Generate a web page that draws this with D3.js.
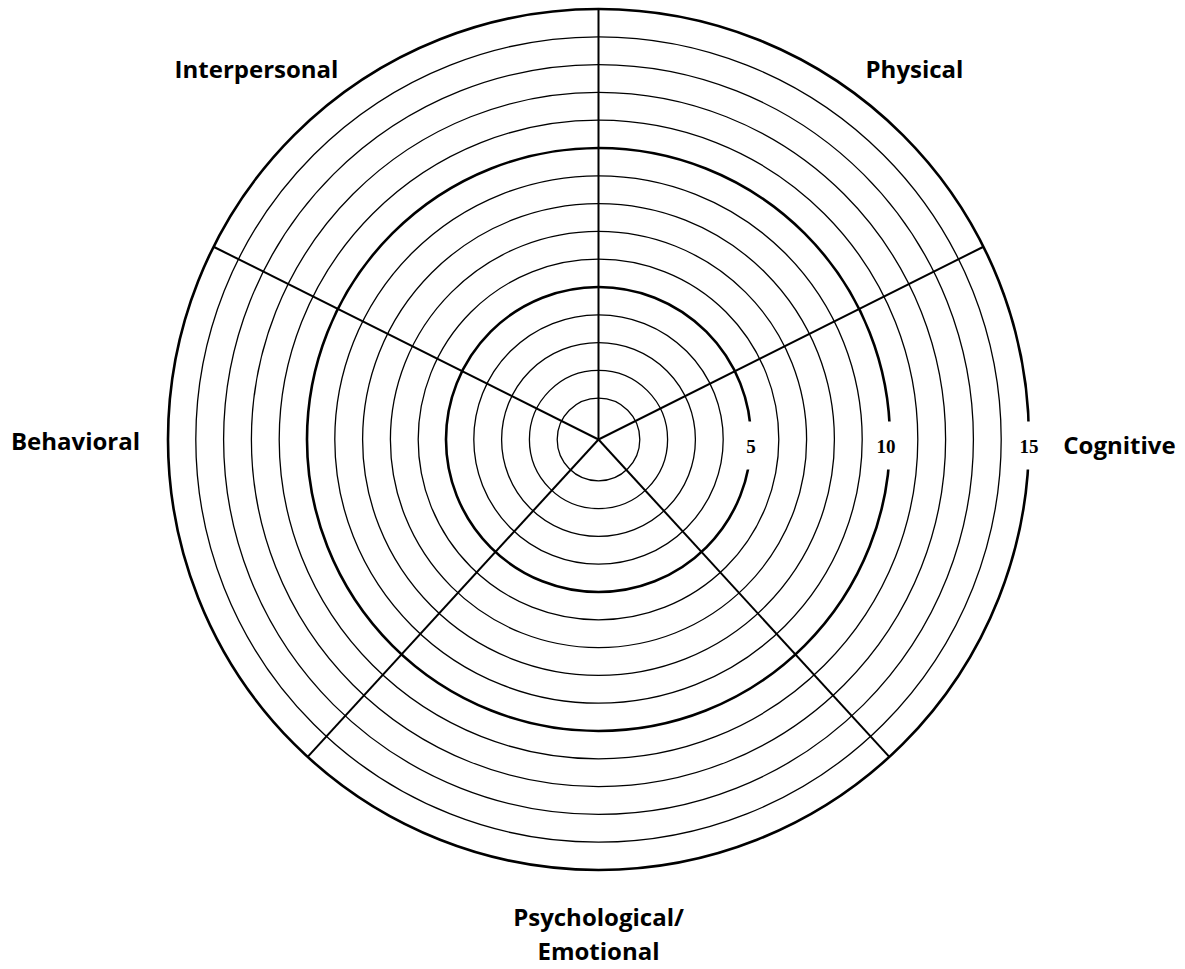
<!DOCTYPE html>
<html>
<head>
<meta charset="utf-8">
<script src="https://cdn.jsdelivr.net/npm/d3@7"></script>
<style>
  body { margin: 0; background: #fff; }
  svg { display: block; }
</style>
</head>
<body>
<script>
// rings 1..15, every 5th one heavier and labelled
const levels = d3.range(1, 16);
const tickLabels = [5, 10, 15];
const categories = ["Physical", "Cognitive", "Psychological/\nEmotional", "Behavioral", "Interpersonal"];
// spoke directions, degrees clockwise from north
const spokes = [0, 63.4, 137.5, 222.5, 296.6];

const width = 1185;
const height = 969;
const cx = 598.5, cy = 439.5;

const svg = d3.select("body")
  .append("svg")
  .attr("width", width)
  .attr("height", height);

const r = d3.scaleLinear()
  .domain([0, 15])
  .range([13.5, 430.5]);

const g = svg.append("g")
  .attr("transform", `translate(${cx}, ${cy})`);

g.selectAll("circle.ring")
  .data(levels)
  .enter()
  .append("circle")
  .attr("class", "ring")
  .attr("r", d => r(d))
  .attr("fill", "none")
  .attr("stroke", "#000")
  .attr("stroke-width", d => d % 5 === 0 ? 2.6 : 1.3);

const rad = a => a * Math.PI / 180;
g.selectAll("line.spoke")
  .data(spokes)
  .enter()
  .append("line")
  .attr("class", "spoke")
  .attr("x1", 0)
  .attr("y1", 0)
  .attr("x2", d => r(15) * Math.sin(rad(d)))
  .attr("y2", d => -r(15) * Math.cos(rad(d)))
  .attr("stroke", "#000")
  .attr("stroke-width", 2);

// tick labels sit in a gap cut out of their ring
const ticks = g.selectAll("g.tick")
  .data(tickLabels)
  .enter()
  .append("g")
  .attr("class", "tick")
  .attr("transform", d => `translate(${r(d) - (d === 10 ? 4 : 0)}, 0)`);
ticks.append("rect")
  .attr("x", -13)
  .attr("y", -18)
  .attr("width", 26)
  .attr("height", 48)
  .attr("fill", "#fff");
ticks.append("text")
  .attr("y", 13)
  .attr("text-anchor", "middle")
  .style("font-family", "'Liberation Serif', serif")
  .style("font-weight", "bold")
  .style("font-size", "19px")
  .text(d => d);

// category label placement, relative to centre
const labelPos = {
  "Physical": [316, -362],
  "Cognitive": [521, 14],
  "Psychological/\nEmotional": [0, 486],
  "Behavioral": [-523, 10],
  "Interpersonal": [-342, -362]
};

const labels = g.selectAll("text.cat")
  .data(categories)
  .enter()
  .append("text")
  .attr("class", "cat")
  .attr("x", d => labelPos[d][0])
  .attr("y", d => labelPos[d][1])
  .attr("text-anchor", "middle")
  .style("font-family", "'Open Sans', sans-serif")
  .style("font-weight", "700")
  .style("font-size", "24px");
labels.selectAll("tspan")
  .data(d => d.split("\n").map((t, i) => ({ t, i, x: labelPos[d][0] })))
  .enter()
  .append("tspan")
  .attr("x", d => d.x)
  .attr("dy", d => d.i === 0 ? 0 : 34)
  .text(d => d.t);
</script>
</body>
</html>
